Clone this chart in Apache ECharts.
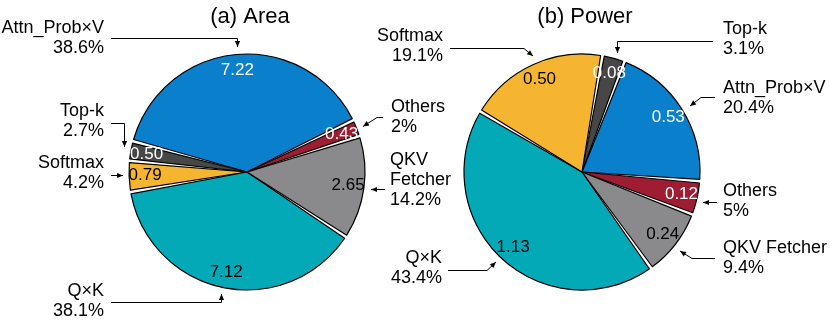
<!DOCTYPE html>
<html>
<head>
<meta charset="utf-8">
<script src="https://cdn.jsdelivr.net/npm/echarts@6/dist/echarts.min.js"></script>
<style>
  html, body { margin: 0; padding: 0; background: #fff; }
  #chart { width: 830px; height: 321px; }
</style>
</head>
<body>
<div id="chart"></div>
<script>
// (a) Area
const areaNames = ['Attn_Prob×V', 'Top-k', 'Softmax', 'Q×K', 'QKV Fetcher', 'Others'];
const areaValues = [7.22, 0.50, 0.79, 7.12, 2.65, 0.43];
const areaPct = ['38.6%', '2.7%', '4.2%', '38.1%', '14.2%', '2%'];

// (b) Power
const powerNames = ['Top-k', 'Attn_Prob×V', 'Others', 'QKV Fetcher', 'Q×K', 'Softmax'];
const powerValues = [0.08, 0.53, 0.12, 0.24, 1.13, 0.50];
const powerPct = ['3.1%', '20.4%', '5%', '9.4%', '43.4%', '19.1%'];

const titles = ['(a) Area', '(b) Power'];

const FONT = '"Liberation Sans", Arial, sans-serif';
const sliceColor = {
  'Attn_Prob×V': '#0A7FCB',
  'Top-k': '#474747',
  'Softmax': '#F6B530',
  'Q×K': '#04A9B8',
  'QKV Fetcher': '#8A8A8C',
  'Others': '#9F1D33'
};
const whiteText = ['Attn_Prob×V', 'Top-k', 'Others'];

// label placement for each pie: text anchor + arrow path (pixels)
const areaAnno = {
  'Attn_Prob×V': { x: 104, y: 18, align: 'right', path: [[111, 38.5], [237.5, 38.5], [237.5, 47]] },
  'Top-k':       { x: 104, y: 101, align: 'right', path: [[111, 123.5], [124.5, 123.5], [124.5, 147]] },
  'Softmax':     { x: 104, y: 153, align: 'right', path: [[111, 175.5], [123, 175.5]] },
  'Q×K':         { x: 104, y: 281, align: 'right', path: [[111, 302.5], [221.5, 302.5], [221.5, 294]] },
  'QKV Fetcher': { x: 390, y: 150, align: 'left', wrap: true, path: [[385, 189.5], [371, 189.5]] },
  'Others':      { x: 391, y: 97, align: 'left', path: [[383, 117.5], [377, 117.5], [363, 126.5]] }
};
const powerAnno = {
  'Softmax':     { x: 443, y: 26, align: 'right', path: [[450, 48.5], [524, 48.5], [533, 56]] },
  'Top-k':       { x: 723, y: 19, align: 'left', path: [[713, 41.5], [617.5, 41.5], [617.5, 53]] },
  'Attn_Prob×V': { x: 723, y: 78, align: 'left', path: [[715, 97.5], [701, 97.5], [690, 106]] },
  'Others':      { x: 723, y: 181, align: 'left', path: [[717, 202.5], [703, 202.5]] },
  'QKV Fetcher': { x: 723, y: 238, align: 'left', path: [[715, 258.5], [692, 258.5], [680, 251]] },
  'Q×K':         { x: 442, y: 248, align: 'right', path: [[448, 270.5], [487, 270.5], [496, 262]] }
};

function pieData(names, values) {
  return names.map((n, i) => ({
    name: n,
    value: values[i],
    itemStyle: { color: sliceColor[n] },
    label: { color: whiteText.indexOf(n) >= 0 ? '#fff' : '#000' }
  }));
}

function pieSeries(names, values, center, startAngle, clockwise) {
  const base = {
    type: 'pie',
    center: center,
    startAngle: startAngle,
    clockwise: clockwise,
    padAngle: 1.8,
    animation: false,
    data: pieData(names, values)
  };
  return [
    Object.assign({}, base, {
      radius: [0, 118],
      itemStyle: { borderColor: '#000', borderWidth: 1.2 },
      label: { show: false },
      labelLine: { show: false },
      emphasis: { disabled: true }
    }),
    // transparent ring only used to place the value labels near the rim
    Object.assign({}, base, {
      radius: [80, 118],
      silent: true,
      z: 5,
      itemStyle: { color: 'rgba(0,0,0,0)', borderWidth: 0 },
      label: {
        show: true,
        position: 'inside',
        fontSize: 17,
        fontFamily: FONT,
        formatter: p => p.value.toFixed(2)
      },
      labelLine: { show: false },
      emphasis: { disabled: true },
      data: pieData(names, values).map(d => Object.assign(d, { itemStyle: { color: 'rgba(0,0,0,0)' } }))
    })
  ];
}

function arrowHead(p0, p1) {
  const dx = p1[0] - p0[0], dy = p1[1] - p0[1];
  const len = Math.hypot(dx, dy);
  const ux = dx / len, uy = dy / len, L = 6, W = 2.6;
  const bx = p1[0] - ux * L, by = p1[1] - uy * L;
  return [p1, [bx - uy * W, by + ux * W], [bx + uy * W, by - ux * W]];
}

function annotations(names, pct, anno) {
  const out = [];
  names.forEach((n, i) => {
    const a = anno[n];
    const label = a.wrap ? n.replace(' ', '\n') : n;
    out.push({
      type: 'text',
      silent: true,
      style: {
        text: label + '\n' + pct[i],
        x: a.x, y: a.y,
        align: a.align, verticalAlign: 'top',
        fontSize: 18, fontFamily: FONT, lineHeight: 20,
        fill: '#000'
      }
    });
    const pts = a.path;
    out.push({
      type: 'polyline',
      silent: true,
      shape: { points: pts },
      style: { stroke: '#000', lineWidth: 1, fill: null }
    });
    out.push({
      type: 'polygon',
      silent: true,
      shape: { points: arrowHead(pts[pts.length - 2], pts[pts.length - 1]) },
      style: { fill: '#000' }
    });
  });
  return out;
}

const chart = echarts.init(document.getElementById('chart'), null, { renderer: 'canvas' });
chart.setOption({
  backgroundColor: '#fff',
  animation: false,
  title: [
    { text: titles[0], left: 245, top: 1, textAlign: 'center',
      textStyle: { fontSize: 22, fontWeight: 'normal', fontFamily: FONT, color: '#000' } },
    { text: titles[1], left: 580, top: 1, textAlign: 'center',
      textStyle: { fontSize: 22, fontWeight: 'normal', fontFamily: FONT, color: '#000' } }
  ],
  series: [].concat(
    pieSeries(areaNames, areaValues, [247, 172], 26, false),
    pieSeries(powerNames, powerValues, [582, 172], 80, true)
  ),
  graphic: annotations(areaNames, areaPct, areaAnno).concat(annotations(powerNames, powerPct, powerAnno))
});
</script>
</body>
</html>
